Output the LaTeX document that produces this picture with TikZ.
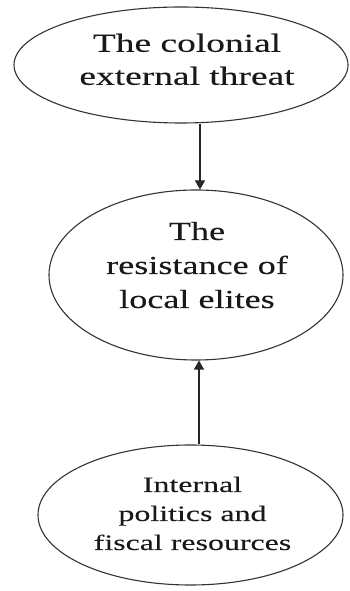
\documentclass[tikz,border=0pt]{standalone}
\usepackage{fontspec}
\setmainfont{Liberation Serif}[FakeBold=0.12]
\usetikzlibrary{shapes.geometric,arrows.meta}
\begin{document}
\begin{tikzpicture}[x=1pt,y=1pt,
  oval/.style={ellipse, draw=black!80, line width=1.1pt, inner sep=0pt},
  lbl/.style={inner sep=0pt, align=center, text=black!90},
  arr/.style={draw=black!85, line width=1.1pt, -{Triangle[width=10pt,length=9pt]}}]
\useasboundingbox (0,0) rectangle (350,591);
\node[oval, minimum width=334pt, minimum height=116pt] (top) at (181,526) {};
\node[oval, minimum width=294pt, minimum height=170pt] (mid) at (196,316) {};
\node[oval, minimum width=305pt, minimum height=140pt] (bot) at (190.5,76) {};
\node[lbl] (toptext) at (187,529.3) {\scalebox{1.44}[1]{\fontsize{26}{33}\selectfont\begin{tabular}{@{}c@{}}The colonial\\external threat\end{tabular}}};
\node[lbl] (midtext) at (197,323.8) {\scalebox{1.39}[1]{\fontsize{26}{34}\selectfont\begin{tabular}{@{}c@{}}The\\resistance of\\local elites\end{tabular}}};
\node[lbl] (bottext) at (192.5,75.8) {\scalebox{1.45}[1]{\fontsize{22}{29}\selectfont\begin{tabular}{@{}c@{}}Internal\\politics and\\fiscal resources\end{tabular}}};
\draw[arr] ([xshift=4pt]top.south -| mid.north) -- ([xshift=4pt]mid.north);
\draw[arr] ([xshift=3pt]bot.north -| mid.south) -- ([xshift=3pt]mid.south);
\end{tikzpicture}
\end{document}
